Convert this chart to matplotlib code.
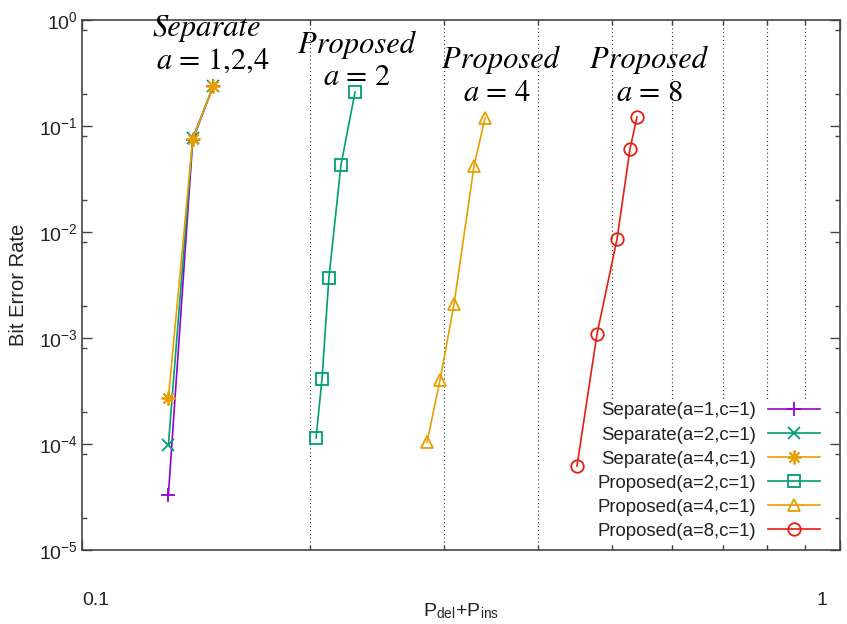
import matplotlib
matplotlib.use("Agg")
import matplotlib.pyplot as plt
from matplotlib.ticker import LogLocator, NullFormatter, FixedLocator
from matplotlib.transforms import ScaledTranslation

plt.rcParams['font.family'] = ['Liberation Sans', 'DejaVu Sans']
plt.rcParams['mathtext.fontset'] = 'custom'
plt.rcParams['mathtext.rm'] = 'Liberation Sans'
plt.rcParams['mathtext.it'] = 'STIXGeneral:italic'
plt.rcParams['mathtext.default'] = 'it'

# ---- data ----
sep1_x = [0.130, 0.140, 0.149]
sep1_y = [3.3e-5, 0.074, 0.238]
sep2_x = [0.130, 0.140, 0.149]
sep2_y = [9.8e-5, 0.077, 0.238]
sep4_x = [0.130, 0.140, 0.149]
sep4_y = [2.7e-4, 0.076, 0.238]
prop2_x = [0.2036, 0.2073, 0.2117, 0.2196, 0.2292]
prop2_y = [1.14e-4, 4.1e-4, 3.7e-3, 0.0429, 0.209]
prop4_x = [0.2852, 0.2967, 0.3096, 0.3290, 0.3402]
prop4_y = [1.04e-4, 4.0e-4, 2.09e-3, 0.042, 0.119]
prop8_x = [0.4498, 0.4780, 0.5080, 0.5284, 0.5397]
prop8_y = [6.2e-5, 1.09e-3, 8.6e-3, 0.0607, 0.1216]

labels = ['Separate(a=1,c=1)', 'Separate(a=2,c=1)', 'Separate(a=4,c=1)',
          'Proposed(a=2,c=1)', 'Proposed(a=4,c=1)', 'Proposed(a=8,c=1)']
annot_top = ['Separate', 'Proposed', 'Proposed', 'Proposed']
annot_bot = [r'$a$ = 1,2,4', r'$a$ = 2', r'$a$ = 4', r'$a$ = 8']

purple = '#9400D3'
green = '#009E73'
orange = '#E69F00'
red = '#E51E10'

fig = plt.figure(figsize=(8.47, 6.24), dpi=100)
W, H = 847, 624
ax_l, ax_r, ax_t, ax_b = 82, 840, 20, 550
ax = fig.add_axes([ax_l / W, 1 - ax_b / H, (ax_r - ax_l) / W, (ax_b - ax_t) / H])

lw = 1.2
ms = 9
mew = 1.3
series = [
    (sep1_x, sep1_y, purple, '+', ms + 1),
    (sep2_x, sep2_y, green, 'x', ms - 1),
    (sep4_x, sep4_y, orange, (8, 2, 0), ms + 1),
    (prop2_x, prop2_y, green, 's', ms),
    (prop4_x, prop4_y, orange, '^', ms),
    (prop8_x, prop8_y, red, 'o', ms),
]
for (xs, ys, c, m, s), lab in zip(series, labels):
    ax.plot(xs, ys, color=c, lw=lw, marker=m, ms=s, mew=mew,
            markerfacecolor='none', markeredgecolor=c, label=lab)

ax.set_xscale('log')
ax.set_yscale('log')
ax.set_xlim(0.1, 1)
ax.set_ylim(1e-5, 1)

ax.xaxis.set_major_locator(FixedLocator([0.1, 1]))
ax.xaxis.set_minor_locator(LogLocator(base=10, subs=range(2, 10)))
ax.xaxis.set_minor_formatter(NullFormatter())
ax.set_xticklabels(['0.1', '1'])
ax.yaxis.set_major_locator(LogLocator(base=10, numticks=10))
ax.yaxis.set_minor_locator(LogLocator(base=10, subs=(2, 8), numticks=10))
ax.yaxis.set_minor_formatter(NullFormatter())

tick_col = '#222222'
ax.tick_params(which='both', direction='in', top=True, right=True, colors='#444444',
               labelcolor=tick_col, labelsize=14)
ax.tick_params(which='major', length=7, width=1.0)
ax.tick_params(which='minor', length=3.5, width=1.0)
ax.tick_params(axis='x', which='major', pad=30)
ax.tick_params(axis='y', which='major', pad=3)

xl = ax.get_xticklabels()
shifts = [14, -18]
for lab, dx in zip(xl, shifts):
    lab.set_transform(lab.get_transform() + ScaledTranslation(dx / 100, 0, fig.dpi_scale_trans))

for sp in ax.spines.values():
    sp.set_color('#444444')
    sp.set_linewidth(1.2)

ax.grid(which='minor', axis='x', color='#333333', linestyle=(0, (1, 2.5)), lw=0.8)
ax.grid(which='major', axis='both', visible=False)

ax.set_xlabel(r'P$_{\mathrm{del}}$+P$_{\mathrm{ins}}$', fontsize=14, color=tick_col,
              va='center')
ax.xaxis.set_label_coords(0.5, (ax_b - 611) / (ax_b - ax_t))
ax.set_ylabel('Bit Error Rate', fontsize=14.5, color=tick_col, labelpad=8)

leg = ax.legend(loc='lower right', bbox_to_anchor=(0.978, 0.012), markerfirst=False,
                fontsize=13.4, handlelength=2.75, handletextpad=0.65, labelspacing=0.38,
                borderaxespad=0, borderpad=0.2, frameon=True, fancybox=False,
                edgecolor='none', facecolor='white', framealpha=1)
for t in leg.get_texts():
    t.set_color(tick_col)

def afrac(px, py):
    return ((px - ax_l) / (ax_r - ax_l), (ax_b - py) / (ax_b - ax_t))

top_pos = [(207, 28), (356, 45), (500, 60), (648, 60)]
bot_pos = [(213, 62), (357, 78), (497, 94), (650, 94)]
for txt, (px, py) in zip(annot_top, top_pos):
    fx, fy = afrac(px, py)
    ax.text(fx, fy, txt, transform=ax.transAxes, ha='center', va='center',
            fontfamily='STIXGeneral', style='italic', fontsize=22, clip_on=False)
for txt, (px, py) in zip(annot_bot, bot_pos):
    fx, fy = afrac(px, py)
    ax.text(fx, fy, txt, transform=ax.transAxes, ha='center', va='center',
            fontfamily='STIXGeneral', fontsize=22, clip_on=False)

fig.savefig('out.png', dpi=100)
